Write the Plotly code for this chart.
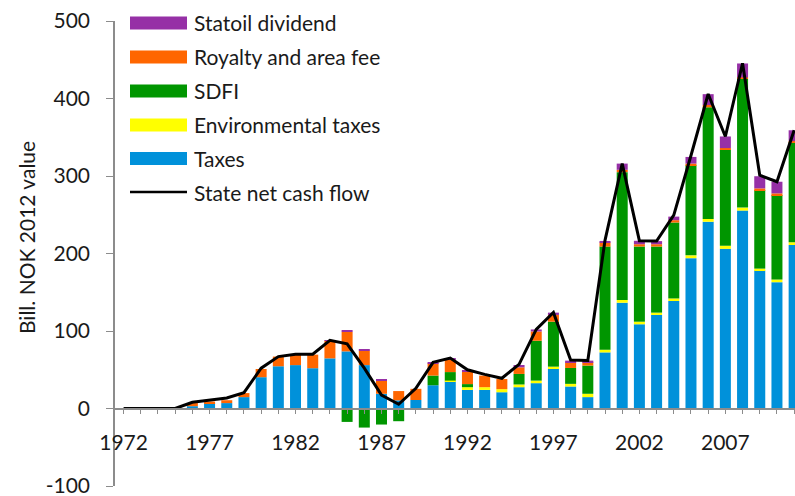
import plotly.graph_objects as go

years = list(range(1972, 2012))

taxes = [0, 0, 0, 0, 3, 7, 7, 14.7, 40.4, 54.5, 56, 52, 64.7, 73.7, 56, 19, 10.5, 11,
         30, 35, 24, 24, 21, 27.5, 32.7, 51, 28.4, 14.7, 72.4, 136.5, 108.7, 120.7,
         138.7, 194, 241, 206, 255.4, 178, 163, 211]
env_taxes = [0, 0, 0, 0, 0, 0, 0, 0, 0, 0, 0, 0, 0, 0, 0, 0, 0, 0,
             0, 1, 3.5, 3.5, 4, 3.5, 3.3, 3, 3.4, 4.3, 3.5, 3.5, 3.3, 3,
             3.3, 3.6, 3.6, 4, 3.8, 2.5, 3.4, 3.5]
sdfi = [0, 0, 0, 0, 0, 0, 0, 0, 0, 0, 0, 0, 0, -17.3, -24.6, -20.7, -16.4, 0,
        12.5, 11, 4, 0, 0, 13.6, 51.4, 58, 20.5, 36.4, 133, 165, 97, 85.3,
        98, 116.2, 144, 124, 166, 101.3, 109, 129]
royalty = [0, 0, 0, 0, 4, 2, 3.7, 5.2, 10.6, 12.5, 14, 17.5, 23, 25.3, 18.6, 17, 12, 14.4,
           16, 16, 16, 15, 13, 8.5, 12, 8.7, 7.3, 4.2, 5.3, 3, 3, 3,
           3, 2.2, 3, 2, 2, 2.2, 2.2, 1.5]
statoil = [0, 0, 0, 0, 0, 0, 0, 0, 0, 0, 0, 0, 0.5, 2, 2, 2, 0, 0,
           0.5, 2, 1, 0, 0, 3, 2.6, 3, 2.2, 2.2, 2, 8, 4.4, 4,
           4.6, 8.6, 14, 15, 18, 15.7, 15, 14]
net_cash_flow = [0, 0, 0, 0, 8, 11, 13.5, 20.5, 52, 67, 70, 70, 88, 83.5, 52, 17.3, 5.5, 26,
                 59.5, 65, 50, 44, 39, 57, 102, 124, 62.5, 62, 217, 316, 216.4, 216,
                 249.5, 326.5, 405.8, 351, 445.5, 301, 292.6, 359]

tick_years = [1972, 1977, 1982, 1987, 1992, 1997, 2002, 2007]
y_ticks = [-100, 0, 100, 200, 300, 400, 500]
y_ticklabels = ["-100", "0", "100", "200", "300", "400", "500"]

series_names = ["Taxes", "Environmental taxes", "SDFI", "Royalty and area fee", "Statoil dividend"]
series_vals = [taxes, env_taxes, sdfi, royalty, statoil]
colors = {
    "Taxes": "#0091DA",
    "Environmental taxes": "#FFFF00",
    "SDFI": "#009600",
    "Royalty and area fee": "#FF6600",
    "Statoil dividend": "#9630A6",
}

FONT = "Lato, 'Open Sans', sans-serif"
FS = 21
TXT = "#1a1a1a"
W, H = 795, 496
ML, MR, MT, MB = 115, 0, 21, 10
PW, PH = W - ML - MR, H - MT - MB

fig = go.Figure()
for name, vals in zip(series_names, series_vals):
    fig.add_trace(go.Bar(x=years, y=vals, name=name, marker_color=colors[name],
                         marker_line_width=0, showlegend=False))
fig.add_trace(go.Scatter(x=years, y=net_cash_flow, name="State net cash flow", mode="lines",
                         line=dict(color="black", width=3), showlegend=False))

ticktext = [str(y) if y in tick_years else "" for y in years]

fig.update_layout(
    width=W, height=H,
    margin=dict(l=ML, r=MR, t=MT, b=MB, autoexpand=False),
    paper_bgcolor="white", plot_bgcolor="white",
    barmode="relative", bargap=0.36,
    font=dict(family=FONT, size=FS, color=TXT),
    xaxis=dict(
        range=[1971.5, 2011.05], tickmode="array", tickvals=years, ticktext=ticktext,
        anchor="free", position=100 / 600, showline=True, linecolor="#8c8c8c", linewidth=1.5,
        ticks="outside", ticklen=5, tickcolor="#8c8c8c", showgrid=False, zeroline=False,
        ticklabelstandoff=11, tickfont=dict(size=FS, color=TXT), automargin=False,
    ),
    yaxis=dict(
        range=[-100, 500], tickmode="array", tickvals=y_ticks, ticktext=y_ticklabels,
        showline=True, linecolor="#8c8c8c", linewidth=1.5,
        ticks="outside", ticklen=7, tickcolor="#8c8c8c", showgrid=False, zeroline=False,
        ticklabelstandoff=12, tickfont=dict(size=FS, color=TXT), ticklabeloverflow="allow",
        automargin=False,
    ),
)

# y-axis title
fig.add_annotation(text="Bill. NOK 2012 value", textangle=-90, xref="paper", yref="paper",
                   x=(27 - ML) / PW, y=(MT + PH - 237) / PH, showarrow=False,
                   xanchor="center", yanchor="middle", font=dict(size=FS, color=TXT))

# custom legend
legend_items = ["Statoil dividend", "Royalty and area fee", "SDFI", "Environmental taxes", "Taxes",
                "State net cash flow"]
row_y = [23, 57, 91, 125, 158.5, 192]
def px_x(px):
    return (px - ML) / PW
def px_y(py):
    return (MT + PH - py) / PH
for name, ry in zip(legend_items, row_y):
    if name == "State net cash flow":
        fig.add_shape(type="line", xref="paper", yref="paper", x0=px_x(130), x1=px_x(187),
                      y0=px_y(ry), y1=px_y(ry), line=dict(color="black", width=2.5))
    else:
        fig.add_shape(type="rect", xref="paper", yref="paper", x0=px_x(130), x1=px_x(187),
                      y0=px_y(ry - 6.5), y1=px_y(ry + 6.5), fillcolor=colors[name], line_width=0)
    fig.add_annotation(text=name, xref="paper", yref="paper", x=px_x(192), y=px_y(ry),
                       xanchor="left", yanchor="middle", showarrow=False,
                       font=dict(size=FS, color=TXT))

fig.write_html("out.html", config={"displayModeBar": False},
               post_script="document.body.style.margin='0';")
